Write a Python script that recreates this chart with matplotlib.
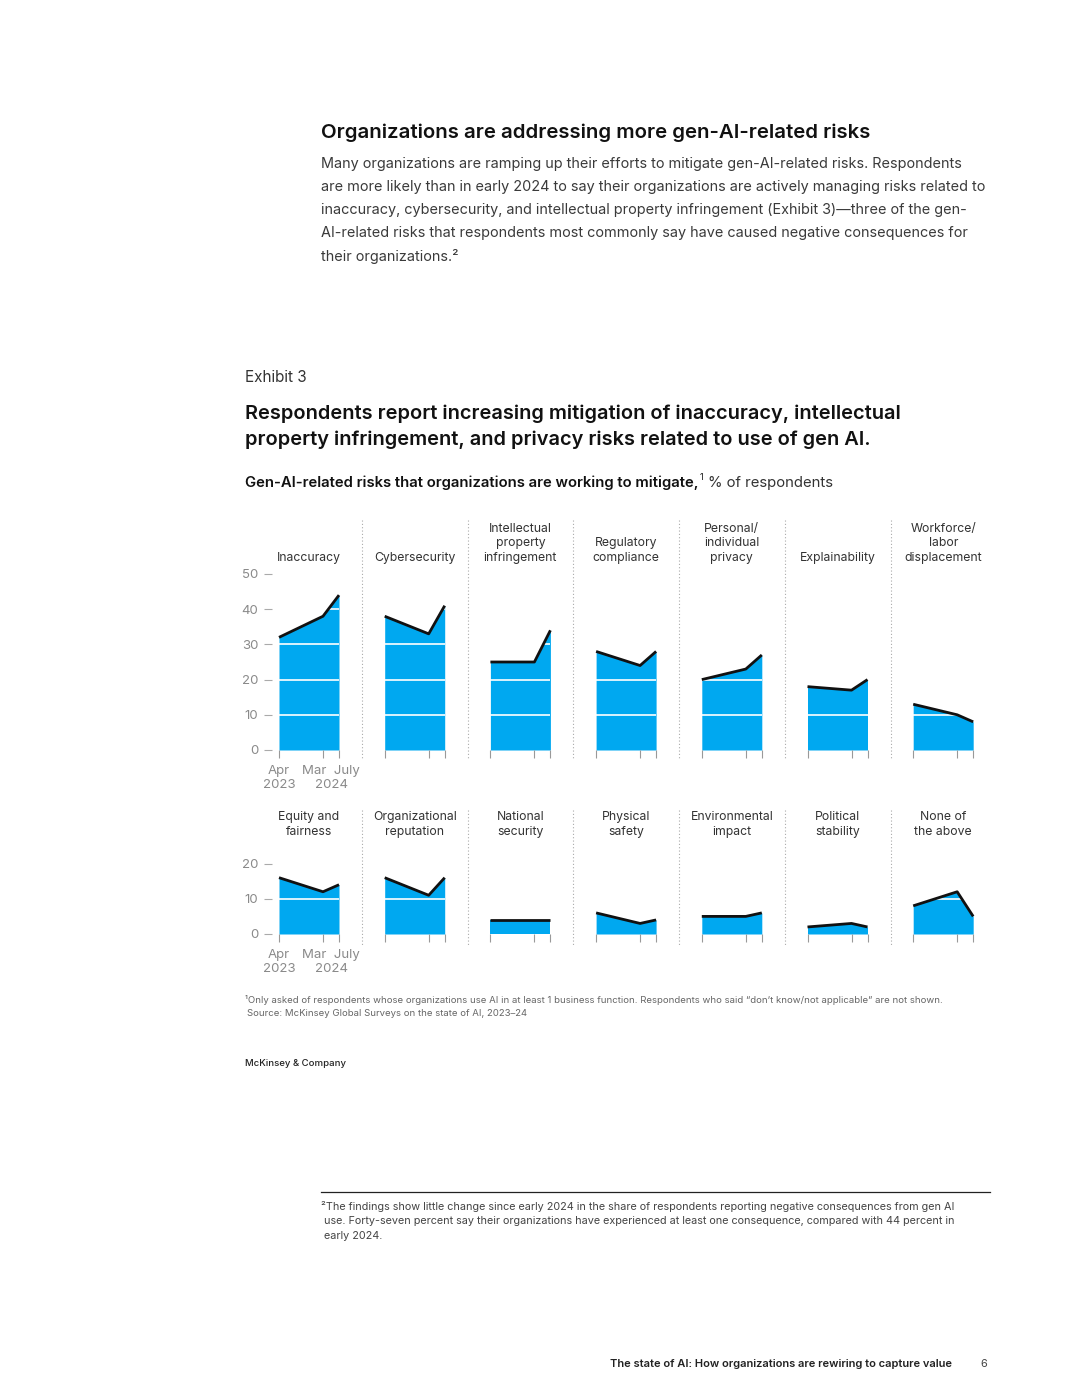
import matplotlib.pyplot as plt
from matplotlib.lines import Line2D

plt.rcParams['font.family'] = ['Inter', 'DejaVu Sans']

# months since Apr 2023: Apr 2023, Mar 2024, July 2024
months = [0, 11, 15]

top_labels = ["Inaccuracy", "Cybersecurity", "Intellectual\nproperty\ninfringement",
              "Regulatory\ncompliance", "Personal/\nindividual\nprivacy", "Explainability",
              "Workforce/\nlabor\ndisplacement"]
top_values = [
    [32, 38, 44],
    [38, 33, 41],
    [25, 25, 34],
    [28, 24, 28],
    [20, 23, 27],
    [18, 17, 20],
    [13, 10, 8],
]

bottom_labels = ["Equity and\nfairness", "Organizational\nreputation", "National\nsecurity",
                 "Physical\nsafety", "Environmental\nimpact", "Political\nstability",
                 "None of\nthe above"]
bottom_values = [
    [16, 12, 14],
    [16, 11, 16],
    [4, 4, 4],
    [6, 3, 4],
    [5, 5, 6],
    [2, 3, 2],
    [8, 12, 5],
]

top_yticks = [0, 10, 20, 30, 40, 50]
bottom_yticks = [0, 10, 20]

W, H = 1080, 1397
fig = plt.figure(figsize=(W / 100, H / 100), dpi=100)

BLUE = "#00a8f0"
GREY = "#8a8a8a"


def fx(px):
    return px / W


def fy(py):
    return 1 - py / H


def text(x, y, s, **kw):
    return fig.text(fx(x), fy(y), s, **kw)


# page text
text(321, 133, "Organizations are addressing more gen-AI-related risks",
     fontsize=14.7, fontweight="semibold", color="#111", va="center")
body = ["Many organizations are ramping up their efforts to mitigate gen-AI-related risks. Respondents",
        "are more likely than in early 2024 to say their organizations are actively managing risks related to",
        "inaccuracy, cybersecurity, and intellectual property infringement (Exhibit 3)\u2014three of the gen-",
        "AI-related risks that respondents most commonly say have caused negative consequences for",
        "their organizations.\u00b2"]
for i, line in enumerate(body):
    text(321, 164 + 23 * i, line, fontsize=10.4, color="#3a3a3a", va="center")

text(245, 378, "Exhibit 3", fontsize=11, color="#333", va="center")
text(245, 414, "Respondents report increasing mitigation of inaccuracy, intellectual",
     fontsize=14.4, fontweight="semibold", color="#111", va="center")
text(245, 440, "property infringement, and privacy risks related to use of gen AI.",
     fontsize=14.4, fontweight="semibold", color="#111", va="center")

# subtitle, bold part then regular part
fig.canvas.draw()
r = fig.canvas.get_renderer()
t1 = text(245, 483, "Gen-AI-related risks that organizations are working to mitigate,",
          fontsize=10.7, fontweight="semibold", color="#111", va="center")
x_end = t1.get_window_extent(renderer=r).x1
t2 = fig.text(x_end / W + 0.001, fy(478), "1", fontsize=6.5, color="#111", va="center")
x_end = t2.get_window_extent(renderer=r).x1
fig.text(x_end / W + 0.004, fy(483), "% of respondents", fontsize=10.7, color="#333", va="center")

# panels
col0 = 279
step = 105.7
fill_w = 60
px_per_unit = 3.52


def draw_row(labels, values, yticks, y_zero, label_bottom):
    ymax = yticks[-1]
    height = ymax * px_per_unit
    for i, (lab, vals) in enumerate(zip(labels, values)):
        x0 = col0 + step * i
        ax = fig.add_axes([fx(x0), fy(y_zero), fill_w / W, height / H])
        ax.set_xlim(months[0], months[-1])
        ax.set_ylim(0, ymax)
        ax.fill_between(months, vals, 0, color=BLUE, lw=0, zorder=1)
        for g in yticks[1:]:
            ax.axhline(g, color="white", lw=1.2, zorder=2)
        ax.plot(months, vals, color="#111", lw=2, zorder=3, clip_on=False,
                solid_capstyle="butt")
        for s in ax.spines.values():
            s.set_visible(False)
        ax.set_facecolor("none")
        ax.set_xticks(months)
        ax.set_xticklabels([])
        ax.tick_params(axis="x", length=6, width=0.8, color="#999", direction="out")
        if i == 0:
            ax.spines["left"].set_position(("outward", 5))
            ax.set_yticks(yticks)
            ax.set_yticklabels([str(v) for v in yticks])
            ax.tick_params(axis="y", length=6, width=0.8, color="#aaa", pad=4,
                           labelsize=9.5, labelcolor=GREY)
            ax.xaxis.remove_overlapping_locs = False
            ax.set_xticks([0, 13], minor=True)
            ax.set_xticklabels(["Apr\n2023", "Mar  July\n2024"], minor=True)
            ax.tick_params(axis="x", which="minor", length=0, pad=11,
                           labelsize=9.5, labelcolor=GREY)
        else:
            ax.set_yticks([])
        ax.text(0.5, (y_zero - label_bottom) / height, lab, transform=ax.transAxes,
                ha="center", va="bottom", fontsize=8.8, color="#333", linespacing=1.3)


draw_row(top_labels, top_values, top_yticks, 750, 564)
draw_row(bottom_labels, bottom_values, bottom_yticks, 934, 838)

# dotted separators between panels
for i in range(6):
    x = fx(362 + step * i)
    fig.add_artist(Line2D([x, x], [fy(520), fy(760)], color="#aaa", lw=0.8, ls=(0, (1, 2))))
    fig.add_artist(Line2D([x, x], [fy(810), fy(945)], color="#aaa", lw=0.8, ls=(0, (1, 2))))

# footnotes
text(245, 1000, "\u00b9Only asked of respondents whose organizations use AI in at least 1 business function. "
     "Respondents who said \u201cdon\u2019t know/not applicable\u201d are not shown.",
     fontsize=6.9, color="#666", va="center")
text(247, 1013, "Source: McKinsey Global Surveys on the state of AI, 2023\u201324",
     fontsize=6.9, color="#666", va="center")
text(245, 1063, "McKinsey & Company", fontsize=6.9, fontweight="medium", color="#222", va="center")

fig.add_artist(Line2D([fx(321), fx(990)], [fy(1192), fy(1192)], color="#222", lw=0.9))
fn2 = ["\u00b2The findings show little change since early 2024 in the share of respondents reporting negative consequences from gen AI",
       " use. Forty-seven percent say their organizations have experienced at least one consequence, compared with 44 percent in",
       " early 2024."]
for i, line in enumerate(fn2):
    text(321, 1206 + 15 * i, line, fontsize=7.8, color="#444", va="center")

text(952, 1364, "The state of AI: How organizations are rewiring to capture value",
     fontsize=8.0, fontweight="semibold", color="#222", va="center", ha="right")
text(987, 1364, "6", fontsize=7.8, color="#444", va="center", ha="right")

fig.savefig("out.png", dpi=100, facecolor="white")
